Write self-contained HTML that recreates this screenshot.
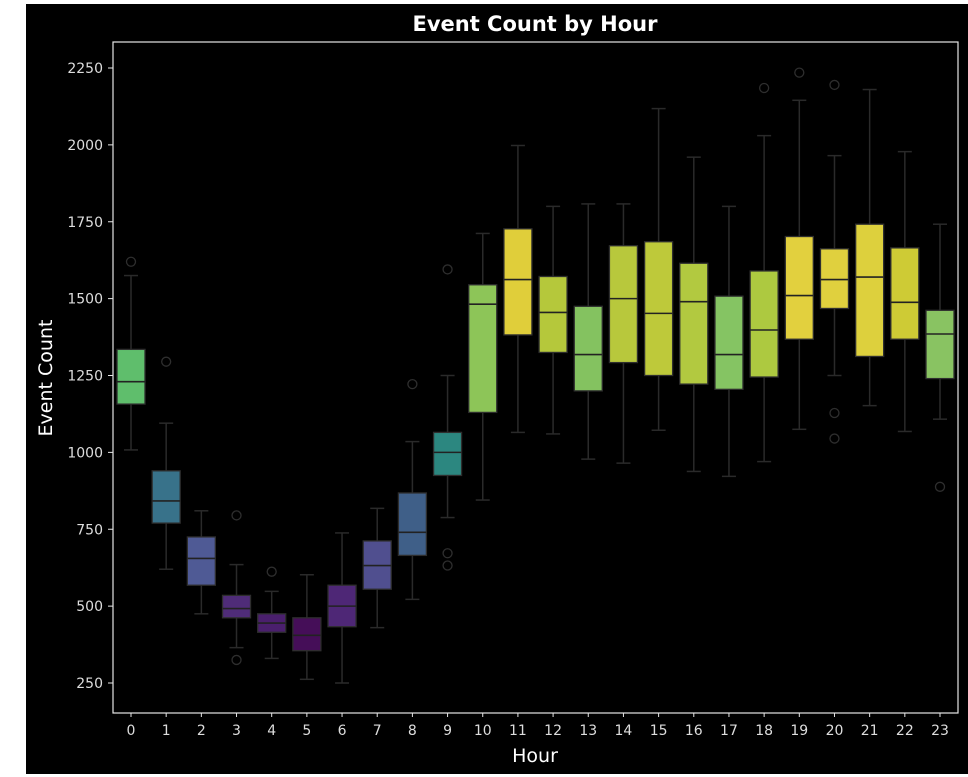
<!DOCTYPE html>
<html><head><meta charset="utf-8"><style>
html,body{margin:0;padding:0;background:#fff;}
svg{display:block;font-family:"DejaVu Sans","Liberation Sans",sans-serif;}
</style></head><body>
<svg id="chart" width="968" height="777">
<rect x="26" y="4" width="942" height="770" fill="#000"/>
<text x="535" y="31" fill="#fff" font-size="21" font-weight="bold" text-anchor="middle">Event Count by Hour</text>
<text x="52" y="378" fill="#fff" font-size="19" text-anchor="middle" transform="rotate(-90 52 378)">Event Count</text>
<text x="535" y="762" fill="#fff" font-size="19" text-anchor="middle">Hour</text>
<g id="marks"></g>
<rect x="113" y="42" width="845" height="671" fill="none" stroke="#e6e6e6" stroke-width="1.2"/>
<g id="axes"></g>
</svg>
<script>
const hours = ["0","1","2","3","4","5","6","7","8","9","10","11","12","13","14","15","16","17","18","19","20","21","22","23"];
const whiskerLow = [1008,620,475,365,330,262,250,430,522,788,845,1065,1060,978,965,1072,938,922,970,1075,1250,1152,1068,1108];
const q1 = [1157,770,568,462,415,355,433,555,665,925,1130,1382,1325,1200,1292,1250,1222,1205,1245,1368,1468,1312,1368,1240];
const median = [1230,842,655,492,445,405,500,632,740,1000,1482,1562,1455,1318,1500,1452,1490,1318,1398,1510,1562,1570,1488,1385];
const q3 = [1335,940,725,535,475,462,568,712,868,1065,1545,1727,1572,1475,1672,1685,1615,1508,1590,1702,1662,1742,1665,1462];
const whiskerHigh = [1575,1095,810,635,548,602,738,818,1035,1250,1712,1998,1800,1808,1808,2118,1960,1800,2030,2145,1965,2180,1978,1742];
const outliers = [[1620],[1295],[],[795,325],[612],[],[],[],[1222],[1595,672,632],[],[],[],[],[],[],[],[],[2185],[2235],[2195,1128,1045],[],[],[888]];
const colors = ["#5fbe6c","#38728a","#4f5a95","#4f2c78","#4a1f6d","#450e58","#4e2776","#504f8f","#3f5f88","#2c8780","#8dc558","#e0ce3a","#b5c83b","#84c260","#b8c83c","#bec93a","#b2c940","#85c463","#adc940","#e2d03e","#e0d03e","#ddd03d","#cecb35","#89c362"];
const yTicks = [250,500,750,1000,1250,1500,1750,2000,2250];

const NS="http://www.w3.org/2000/svg";
function y(v){return 68+(2250-v)*0.3075;}
function x(i){return 131+i*(809/23);}
const marks=document.getElementById('marks');
const axes=document.getElementById('axes');
function mk(tag,attrs,parent){const e=document.createElementNS(NS,tag);for(const k in attrs)e.setAttribute(k,attrs[k]);parent.appendChild(e);return e;}
const bw=28, cw=14;
hours.forEach((h,i)=>{
  const cx=x(i);
  const g=mk('g',{},marks);
  
  
  const st={stroke:'#2a2a2a','stroke-width':1.5};
  mk('line',Object.assign({x1:cx,x2:cx,y1:y(q3[i]),y2:y(whiskerHigh[i])},st),g);
  mk('line',Object.assign({x1:cx,x2:cx,y1:y(q1[i]),y2:y(whiskerLow[i])},st),g);
  mk('line',Object.assign({x1:cx-cw/2,x2:cx+cw/2,y1:y(whiskerHigh[i]),y2:y(whiskerHigh[i])},st),g);
  mk('line',Object.assign({x1:cx-cw/2,x2:cx+cw/2,y1:y(whiskerLow[i]),y2:y(whiskerLow[i])},st),g);
  mk('rect',{x:cx-bw/2,y:y(q3[i]),width:bw,height:y(q1[i])-y(q3[i]),fill:colors[i],stroke:'#2e2e2e','stroke-width':1.3},g);
  mk('line',{x1:cx-bw/2,x2:cx+bw/2,y1:y(median[i]),y2:y(median[i]),stroke:'#222','stroke-width':1.6},g);
  outliers[i].forEach(v=>{
    const c=mk('circle',{cx:cx,cy:y(v),r:4.5,fill:'none',stroke:'#2e2e2e','stroke-width':1.3},g);
    
    
  });
  mk('line',{x1:cx,x2:cx,y1:713,y2:717,stroke:'#e6e6e6','stroke-width':1},axes);
  const t=mk('text',{x:cx,y:735,fill:'#ddd','font-size':14,'text-anchor':'middle'},axes);
  
  
  t.textContent=h;
});
yTicks.forEach(v=>{
  mk('line',{x1:108,x2:113,y1:y(v),y2:y(v),stroke:'#e6e6e6','stroke-width':1},axes);
  const t=mk('text',{x:103,y:y(v)+5,fill:'#ddd','font-size':14,'text-anchor':'end'},axes);
  
  
  t.textContent=v;
});
</script>
</body></html>
